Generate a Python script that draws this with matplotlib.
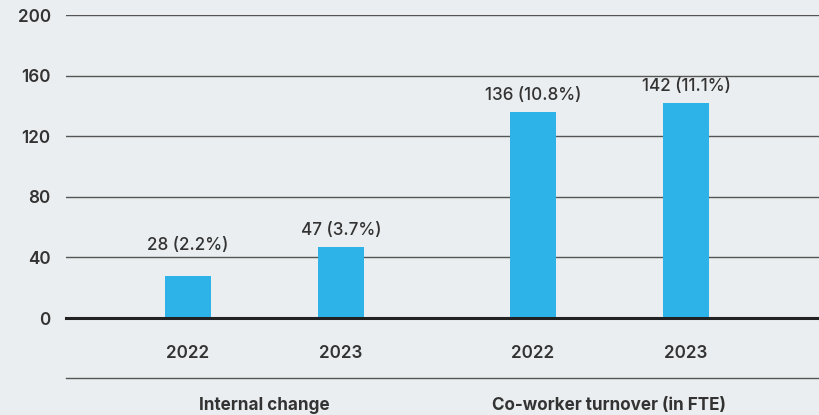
import numpy as np
import matplotlib.pyplot as plt

# data
groups = ['Internal change', 'Co-worker turnover (in FTE)']
years = ['2022', '2023', '2022', '2023']
values = [28, 47, 136, 142]
labels = ['28 (2.2%)', '47 (3.7%)', '136 (10.8%)', '142 (11.1%)']
yticks = [0, 40, 80, 120, 160, 200]

bg = '#ebeef0'
bar_col = '#2db3e8'
txt = '#333333'

plt.rcParams['font.family'] = ['Inter', 'DejaVu Sans']

fig = plt.figure(figsize=(8.2, 4.15), dpi=100, facecolor=bg)
ax = fig.add_axes([66 / 820, 97 / 415, 1 - 66 / 820, 303 / 415])
ax.set_facecolor(bg)

# bar positions: two groups of two, wider gap between groups
gap = 192 / 153
x = np.array([0, 1, 1 + gap, 2 + gap])

ax.bar(x, values, width=0.30, color=bar_col, zorder=3)

# value labels sit above the bar, but never below the 40 gridline
for xi, v, lab in zip(x, values, labels):
    ax.text(xi, max(v + 5, 42.5), lab, ha='center', va='bottom',
            fontsize=12.3, color=txt, fontweight='medium', zorder=4)

ax.set_xlim(-122 / 153, 632 / 153)
ax.set_ylim(0, 200)

# gridlines
for t in yticks[1:]:
    ax.axhline(t, color='#555555', lw=1.0, zorder=1)
ax.axhline(0, color='#222222', lw=2.2, zorder=4, clip_on=False)

ax.set_yticks(yticks)
ax.set_yticklabels([str(t) for t in yticks], fontsize=12.3, color=txt,
                   fontweight='semibold')
ax.tick_params(axis='y', length=0, pad=11)
ax.set_xticks([])
for s in ax.spines.values():
    s.set_visible(False)

# year labels under the bars
for xi, yr in zip(x, years):
    ax.text(xi, -23.5, yr, ha='center', va='center', fontsize=12.3,
            color=txt, fontweight='semibold')

# separator line and group labels
ax.axhline(-39.6, color='#555555', lw=1.0, clip_on=False)
ax.text((x[0] + x[1]) / 2, -57.5, groups[0], ha='center', va='center',
        fontsize=12.3, color=txt, fontweight='bold')
ax.text((x[2] + x[3]) / 2, -57.5, groups[1], ha='center', va='center',
        fontsize=12.3, color=txt, fontweight='bold')

fig.savefig('out.png', dpi=100, facecolor=bg)
